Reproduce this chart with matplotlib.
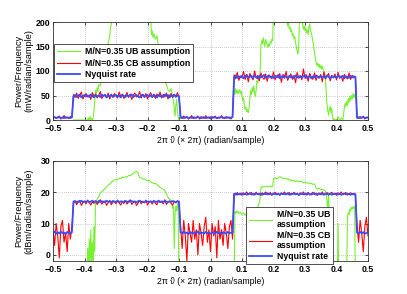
import numpy as np
import matplotlib
matplotlib.use("Agg")
import matplotlib.pyplot as plt

plt.rcParams['font.family'] = ['Liberation Sans', 'DejaVu Sans']
plt.rcParams['font.weight'] = 'bold'
plt.rcParams['font.size'] = 6

# shared frequency grid (normalised frequency, step 0.005)
freq = np.round(np.linspace(-0.5, 0.5, 201), 4)

# ---- top panel (mW/radian/sample) ----
cb_mw = [4, 7, 3, 6, 8, 2, 5, 9, 4, 6,
         3, 7, 5, 52, 46, 55, 44, 50, 57, 43,
         49, 54, 47, 51, 42, 56, 48, 53, 45, 50,
         58, 44, 49, 52, 46, 55, 43, 51, 47, 54,
         49, 45, 57, 48, 52, 44, 50, 56, 46, 53,
         42, 51, 55, 47, 49, 58, 45, 52, 48, 54,
         43, 50, 56, 46, 51, 44, 53, 49, 57, 45,
         52, 47, 55, 43, 50, 54, 46, 52, 48, 56,
         47, 6, 3, 8, 4, 7, 2, 5, 9, 3,
         6, 4, 8, 2, 7, 5, 3, 9, 4, 6,
         2, 7, 5, 8, 3, 6, 4, 9, 5, 3,
         7, 4, 6, 2, 8, 92, 84, 97, 81, 90,
         86, 99, 83, 93, 78, 95, 88, 82, 100, 85,
         91, 80, 96, 87, 83, 94, 79, 92, 89, 84,
         98, 82, 90, 86, 95, 77, 93, 85, 99, 81,
         88, 94, 83, 91, 76, 97, 86, 90, 82, 104,
         85, 92, 79, 95, 88, 83, 96, 81, 90, 87,
         93, 78, 98, 84, 89, 95, 80, 91, 86, 94,
         82, 97, 85, 90, 79, 93, 87, 84, 96, 83,
         91, 86, 89, 6, 3, 7, 4, 8, 2, 5,
         6]

nyq_mw = [4.5, 5.5, 4, 5, 6, 3.5, 5, 4, 5.5, 4.5,
          5, 4, 5.5, 48, 51, 47, 50, 52, 46, 49,
          51, 48, 50, 47, 52, 49, 46, 51, 48, 50,
          47, 52, 49, 51, 46, 50, 48, 52, 47, 49,
          51, 48, 50, 46, 52, 49, 47, 51, 48, 50,
          52, 47, 49, 51, 48, 46, 50, 52, 47, 49,
          51, 48, 50, 47, 52, 49, 46, 51, 48, 50,
          47, 52, 49, 51, 46, 50, 48, 52, 47, 50,
          49, 4.5, 5.5, 4, 5, 6, 3.5, 5, 4.5, 5.5,
          4, 5, 6, 4.5, 3.5, 5, 5.5, 4, 5, 4.5,
          6, 4, 5, 5.5, 3.5, 4.5, 5, 6, 4, 5,
          4.5, 5.5, 4, 5, 6, 88, 91, 86, 89, 87,
          90, 85, 89, 92, 87, 88, 90, 86, 91, 88,
          85, 90, 87, 89, 92, 86, 88, 91, 87, 89,
          86, 90, 88, 92, 85, 89, 87, 91, 88, 86,
          90, 87, 89, 85, 91, 88, 86, 90, 87, 89,
          92, 86, 88, 90, 85, 89, 87, 91, 88, 86,
          90, 87, 89, 86, 91, 88, 85, 90, 87, 89,
          86, 91, 88, 87, 90, 85, 89, 88, 86, 90,
          87, 89, 88, 4.5, 5.5, 4, 5, 6, 4, 5,
          4.5]

ub_mw_freq = [-0.435, -0.39, -0.3875, -0.385, -0.3825, -0.38, -0.3775, -0.375, -0.3725, -0.37,
              -0.3675, -0.365, -0.3625, -0.36, -0.3575, -0.355, -0.35, -0.345, -0.34, -0.335,
              -0.33, -0.325, -0.3225, -0.32, -0.3175, -0.315, -0.31, -0.3, -0.2, -0.19,
              -0.1875, -0.185, -0.1825, -0.18, -0.175, -0.17, -0.165, -0.16, -0.155, -0.15,
              -0.145, -0.14, -0.135, -0.13, -0.125, -0.12, -0.1175, -0.115, -0.1125, -0.11,
              -0.1075, -0.105, -0.1025, -0.1,
              0.0,
              0.075, 0.0775, 0.08, 0.0825, 0.085, 0.0875, 0.09, 0.0925, 0.095, 0.0975,
              0.1, 0.1025, 0.105, 0.1075, 0.11, 0.1125, 0.115, 0.1175, 0.12, 0.1225,
              0.125, 0.1275, 0.13, 0.1325, 0.135, 0.1375, 0.14, 0.1425, 0.145, 0.1475,
              0.15, 0.1525, 0.155, 0.1575, 0.16, 0.1625, 0.165, 0.1675, 0.17, 0.1725,
              0.175, 0.1775, 0.18, 0.1825, 0.185, 0.1875, 0.19, 0.1925, 0.195, 0.1975,
              0.2, 0.24, 0.2425, 0.245, 0.2475, 0.25, 0.2525, 0.255, 0.2575, 0.26,
              0.2625, 0.265, 0.2675, 0.27, 0.2725, 0.275, 0.2775, 0.28, 0.2825, 0.285,
              0.29, 0.2925, 0.295, 0.2975, 0.3, 0.3025, 0.305, 0.3075, 0.31, 0.3125,
              0.315, 0.3175, 0.32, 0.3225, 0.325, 0.3275, 0.33, 0.3325, 0.335, 0.3375,
              0.34, 0.3425, 0.345, 0.3475, 0.35, 0.3525, 0.355, 0.3575, 0.36, 0.3625,
              0.365, 0.3675, 0.37, 0.3725, 0.375, 0.3775, 0.38, 0.3825, 0.385, 0.3875,
              0.39, 0.3925, 0.395, 0.4, 0.405, 0.41, 0.415, 0.42, 0.4225, 0.425,
              0.4275, 0.43, 0.4325, 0.435, 0.4375, 0.44, 0.4425, 0.445, 0.4475, 0.45,
              0.4525, 0.455, 0.4575, 0.46]
ub_mw = [0, 0, 4, 0, 7, 1, 3, 0, 5, 18,
         38, 60, 52, 66, 58, 72, 70, 85, 95, 110,
         130, 157, 163, 172, 188, 196, 215, 230, 230, 215,
         175, 182, 168, 176, 165, 172, 150, 140, 120, 100,
         78, 73, 62, 58, 64, 46, 38, 24, 8, 30,
         42, 20, 6, 0,
         np.nan,
         60, 52, 64, 55, 61, 53, 58, 62, 54, 59,
         48, 40, 45, 30, 22, 26, 17, 21, 15, 24,
         45, 60, 52, 66, 58, 70, 55, 48, 62, 80,
         76, 88, 84, 95, 150, 162, 155, 168, 158, 150,
         164, 160, 153, 148, 156, 151, 160, 157, 165, 162,
         240, 240, 205, 192, 198, 186, 190, 180, 184, 172,
         176, 166, 170, 158, 150, 140, 135, 150, 210, 240,
         240, 195, 185, 192, 182, 188, 178, 184, 175, 190,
         196, 182, 178, 170, 160, 150, 138, 128, 118, 112,
         116, 108, 114, 106, 111, 104, 110, 103, 100, 96,
         80, 55, 30, 18, 10, 22, 28, 15, 24, 5,
         0, 3, 0, 0, 6, 0, 4, 0, 12, 25,
         34, 28, 38, 30, 44, 36, 48, 40, 50, 43,
         54, 46, 52, 45]

# ---- bottom panel (dBm/radian/sample) ----
cb_dbm = [8, 3, 10, 6, -1, 9, 11, 4, 7, 1,
          10, 5, 9, 16.5, 17.2, 16.0, 16.9, 17.4, 15.8, 16.6,
          17.1, 16.3, 17.5, 16.7, 15.9, 17.0, 16.4, 17.3, 16.1, 16.8,
          17.6, 16.2, 16.9, 17.2, 15.8, 16.6, 17.4, 16.0, 16.8, 17.1,
          16.3, 17.5, 16.6, 15.9, 17.0, 16.4, 17.3, 16.2, 16.9, 17.6,
          16.1, 16.7, 17.2, 15.8, 16.5, 17.4, 16.3, 17.0, 16.6, 17.5,
          15.9, 16.8, 17.1, 16.2, 17.3, 16.5, 16.0, 17.4, 16.7, 17.0,
          16.3, 17.6, 16.1, 16.9, 17.2, 16.4, 15.9, 17.1, 16.6, 17.3,
          16.5, 9, 2, 11, 6, -2, 10, 7, 4, 11,
          5, 8, 0, 10, 7, 3, 9, 12, 4, 8,
          1, 10, 6, 9, -1, 11, 5, 8, 3, 10,
          7, 2, 9, 11, 5, 19.6, 19.1, 19.9, 19.3, 19.7,
          19.0, 19.8, 19.4, 20.1, 19.2, 19.6, 19.9, 19.1, 19.5, 20.0,
          19.3, 19.7, 19.0, 19.8, 19.4, 20.1, 19.2, 19.6, 19.9, 19.1,
          19.5, 20.0, 19.3, 19.7, 19.0, 19.8, 19.4, 20.1, 19.2, 19.6,
          19.9, 19.1, 19.5, 20.0, 19.3, 19.7, 19.0, 19.8, 19.4, 20.1,
          19.2, 19.6, 19.9, 19.1, 19.5, 20.0, 19.3, 19.7, 19.0, 19.8,
          19.4, 20.1, 19.2, 19.6, 19.9, 19.1, 19.5, 20.0, 19.3, 19.7,
          19.0, 19.8, 19.4, 20.1, 19.2, 19.6, 19.9, 19.1, 19.5, 19.8,
          19.3, 19.7, 19.4, 10, 4, 11, 7, 1, 9, 12,
          6]

nyq_dbm = [7.0, 7.4, 6.7, 7.2, 6.8, 7.5, 6.9, 7.1, 6.6, 7.3,
           7.0, 6.8, 7.2, 17.0, 17.2, 16.8, 17.1, 16.9, 17.3, 16.8,
           17.1, 16.9, 17.2, 16.8, 17.0, 17.3, 16.9, 17.1, 16.8, 17.2,
           16.9, 17.1, 17.0, 16.8, 17.3, 16.9, 17.1, 16.8, 17.2, 17.0,
           16.9, 17.2, 16.8, 17.1, 17.0, 16.9, 17.3, 16.8, 17.1, 17.0,
           17.2, 16.9, 17.0, 16.8, 17.1, 17.3, 16.9, 17.0, 16.8, 17.2,
           17.0, 16.9, 17.1, 16.8, 17.2, 17.0, 16.9, 17.3, 16.8, 17.1,
           16.9, 17.2, 17.0, 16.8, 17.1, 16.9, 17.2, 17.0, 16.8, 17.1,
           17.0, 7.2, 6.8, 7.4, 6.9, 7.1, 6.6, 7.3, 7.0, 6.8,
           7.2, 6.9, 7.5, 6.7, 7.1, 7.0, 6.8, 7.3, 6.9, 7.1,
           6.7, 7.2, 7.0, 6.8, 7.4, 6.9, 7.1, 6.6, 7.2, 7.0,
           6.8, 7.3, 6.9, 7.1, 7.0, 19.4, 19.6, 19.2, 19.5, 19.3,
           19.6, 19.3, 19.5, 19.2, 19.4, 19.7, 19.3, 19.5, 19.2, 19.6,
           19.4, 19.3, 19.6, 19.2, 19.5, 19.4, 19.7, 19.3, 19.5, 19.2,
           19.6, 19.4, 19.3, 19.5, 19.2, 19.6, 19.4, 19.5, 19.3, 19.7,
           19.2, 19.5, 19.4, 19.6, 19.3, 19.5, 19.2, 19.4, 19.6, 19.3,
           19.5, 19.2, 19.6, 19.4, 19.3, 19.5, 19.7, 19.2, 19.4, 19.5,
           19.3, 19.6, 19.2, 19.5, 19.4, 19.3, 19.6, 19.2, 19.5, 19.4,
           19.6, 19.3, 19.5, 19.2, 19.4, 19.6, 19.3, 19.5, 19.4, 19.2,
           19.5, 19.3, 19.4, 7.1, 6.8, 7.3, 6.9, 7.2, 6.7, 7.0,
           7.2]

ub_dbm_freq = [-0.435, -0.392, -0.39, -0.3875, -0.385, -0.3825, -0.38, -0.3775, -0.375, -0.3725,
               -0.37, -0.3675, -0.365, -0.3625, -0.36, -0.355, -0.35, -0.345, -0.34, -0.335,
               -0.33, -0.325, -0.32, -0.315, -0.31, -0.305, -0.3, -0.295, -0.29, -0.285,
               -0.28, -0.275, -0.27, -0.265, -0.26, -0.255, -0.25, -0.245, -0.24, -0.235,
               -0.23, -0.2275, -0.225, -0.22, -0.215, -0.21, -0.205, -0.2, -0.195, -0.19,
               -0.185, -0.18, -0.175, -0.17, -0.165, -0.16, -0.155, -0.15, -0.145, -0.14,
               -0.135, -0.13, -0.125, -0.1225, -0.12, -0.1175, -0.115, -0.1125, -0.11, -0.1075,
               -0.105, -0.1025, -0.1,
               0.0,
               0.075, 0.0775, 0.08, 0.0825, 0.085, 0.0875, 0.09, 0.095, 0.1, 0.105,
               0.11, 0.115, 0.1175, 0.12, 0.1225, 0.125, 0.1275, 0.13, 0.1325, 0.135,
               0.1375, 0.14, 0.1425, 0.145, 0.1475, 0.15, 0.1525, 0.155, 0.1575, 0.16,
               0.1625, 0.165, 0.17, 0.175, 0.18, 0.185, 0.19, 0.195, 0.1975, 0.2,
               0.205, 0.21, 0.215, 0.22, 0.225, 0.23, 0.235, 0.24, 0.245, 0.25,
               0.255, 0.26, 0.265, 0.27, 0.275, 0.28, 0.285, 0.29, 0.295, 0.3,
               0.305, 0.31, 0.315, 0.32, 0.325, 0.33, 0.335, 0.34, 0.345, 0.35,
               0.355, 0.36, 0.365, 0.3675, 0.37, 0.3725, 0.375, 0.3775, 0.38, 0.4025,
               0.405, 0.4075, 0.43, 0.4325, 0.435, 0.4375, 0.44, 0.4425, 0.445, 0.4475,
               0.45, 0.4525, 0.455, 0.4575, 0.46]
ub_dbm = [-10, -10, 2, -6, 5, -4, 8, -3, 4, -5,
          9, 1, 16.5, 17.2, 17.8, 18.6, 19.6, 20.2, 20.6, 21.3,
          21.6, 22.3, 22.6, 23.1, 23.6, 23.9, 24.1, 24.0, 24.5, 24.4,
          24.9, 24.7, 25.0, 24.8, 25.4, 25.3, 25.6, 26.0, 26.5, 26.7,
          26.2, 25.4, 24.8, 24.6, 24.2, 24.3, 23.9, 23.7, 23.8, 23.3,
          23.1, 22.8, 22.9, 22.4, 22.0, 21.6, 21.2, 21.0, 20.6, 19.4,
          18.4, 17.8, 17.4, 16.2, 14.8, 15.6, 2, 13, 15.5, 14,
          16.4, 15, -10,
          np.nan,
          -10, 13.8, 13.2, 14.0, 13.5, 13.9, 13.2, 13.6, 12.9, 13.4,
          12.6, 13.0, 11.5, 10.6, 12.0, 10.8, 11.8, 10.4, 12.2, 11.6,
          13.0, 12.4, 13.8, 14.2, 15.2, 14.8, 16.2, 16.6, 18.2, 21.2,
          21.8, 21.6, 21.9, 21.7, 22.0, 21.8, 22.0, 21.7, 22.0, 24.4,
          24.6, 24.3, 24.6, 25.0, 24.8, 24.4, 24.5, 24.2, 24.4, 23.8,
          24.0, 23.6, 23.8, 23.4, 23.7, 23.3, 23.6, 23.4, 23.0, 23.3,
          22.9, 23.1, 22.7, 22.9, 22.5, 22.7, 21.4, 21.0, 21.3, 20.8,
          21.0, 20.6, 20.4, 19.5, 17, 14, 19.8, 8, -10, -10,
          10, -10, -10, -4, 12, 13.5, 12.8, 14.6, 14.0, 15.2,
          14.6, 15.4, 14.8, 15.5, -10]

labels_top = ['M/N=0.35 UB assumption', 'M/N=0.35 CB assumption', 'Nyquist rate']
labels_bot = ['M/N=0.35 UB\nassumption', 'M/N=0.35 CB\nassumption', 'Nyquist rate']
xticks = [-0.5, -0.4, -0.3, -0.2, -0.1, 0, 0.1, 0.2, 0.3, 0.4, 0.5]
xtick_labels = ['\u22120.5', '\u22120.4', '\u22120.3', '\u22120.2', '\u22120.1', '0', '0.1', '0.2', '0.3', '0.4', '0.5']

GREEN = '#76f030'
RED = '#ff0000'
BLUE = '#3a4bff'

W, H = 407, 294
fig = plt.figure(figsize=(W / 100, H / 100), dpi=100)
ax1 = fig.add_axes([53 / W, 1 - 120 / H, 315 / W, 98 / H])
ax2 = fig.add_axes([53 / W, 1 - 261 / H, 315 / W, 100 / H])


def style(ax, ylim, yticks, ylabel):
    ax.set_xlim(-0.5, 0.5)
    ax.set_ylim(*ylim)
    ax.set_xticks(xticks)
    ax.set_xticklabels(xtick_labels)
    ax.set_yticks(yticks)
    ax.tick_params(direction='in', length=2.5, width=0.5, top=True, right=True,
                   labelsize=6.3)
    ax.tick_params(axis='x', pad=3)
    ax.tick_params(axis='y', pad=2)
    ax.grid(True, linestyle=(0, (1, 2)), color='#9a9a9a', linewidth=0.5)
    for s in ax.spines.values():
        s.set_linewidth(0.6)
        s.set_color('#333333')
    ax.set_xlabel('2\u03c0 \u03d1 (\u00d7 2\u03c0) (radian/sample)', labelpad=2, fontsize=6.2)
    ax.set_ylabel(ylabel, linespacing=1.2, fontsize=6.6)
    ax.yaxis.set_label_coords(-0.062, 0.5)


def legend(ax, labels, anchor, spacing):
    leg = ax.legend(labels=labels, loc='upper left', bbox_to_anchor=anchor, borderaxespad=0,
                    fancybox=False, framealpha=1, edgecolor='#333333', fontsize=6.3,
                    handlelength=2.6, handletextpad=0.6, labelspacing=spacing,
                    borderpad=0.35)
    leg.get_frame().set_linewidth(0.6)
    for t in leg.get_texts():
        t.set_linespacing(1.2)
    return leg


# top
ax1.plot(ub_mw_freq, ub_mw, color=GREEN, lw=0.8)
ax1.plot(freq, cb_mw, color=RED, lw=0.8)
ax1.plot(freq, nyq_mw, color=BLUE, lw=1.3)
style(ax1, (0, 200), [0, 50, 100, 150, 200], 'Power/Frequency\n(mW/radian/sample)')
legend(ax1, labels_top, (0.003, 0.776), 0.3)

# bottom
ax2.plot(ub_dbm_freq, ub_dbm, color=GREEN, lw=0.8)
ax2.plot(freq, cb_dbm, color=RED, lw=0.8)
ax2.plot(freq, nyq_dbm, color=BLUE, lw=1.3)
style(ax2, (-2, 30), [0, 10, 20, 30], 'Power/Frequency\n(dBm/radian/sample)')
legend(ax2, labels_bot, (0.612, 0.543), 0.18)

fig.savefig('out.png', dpi=100)
